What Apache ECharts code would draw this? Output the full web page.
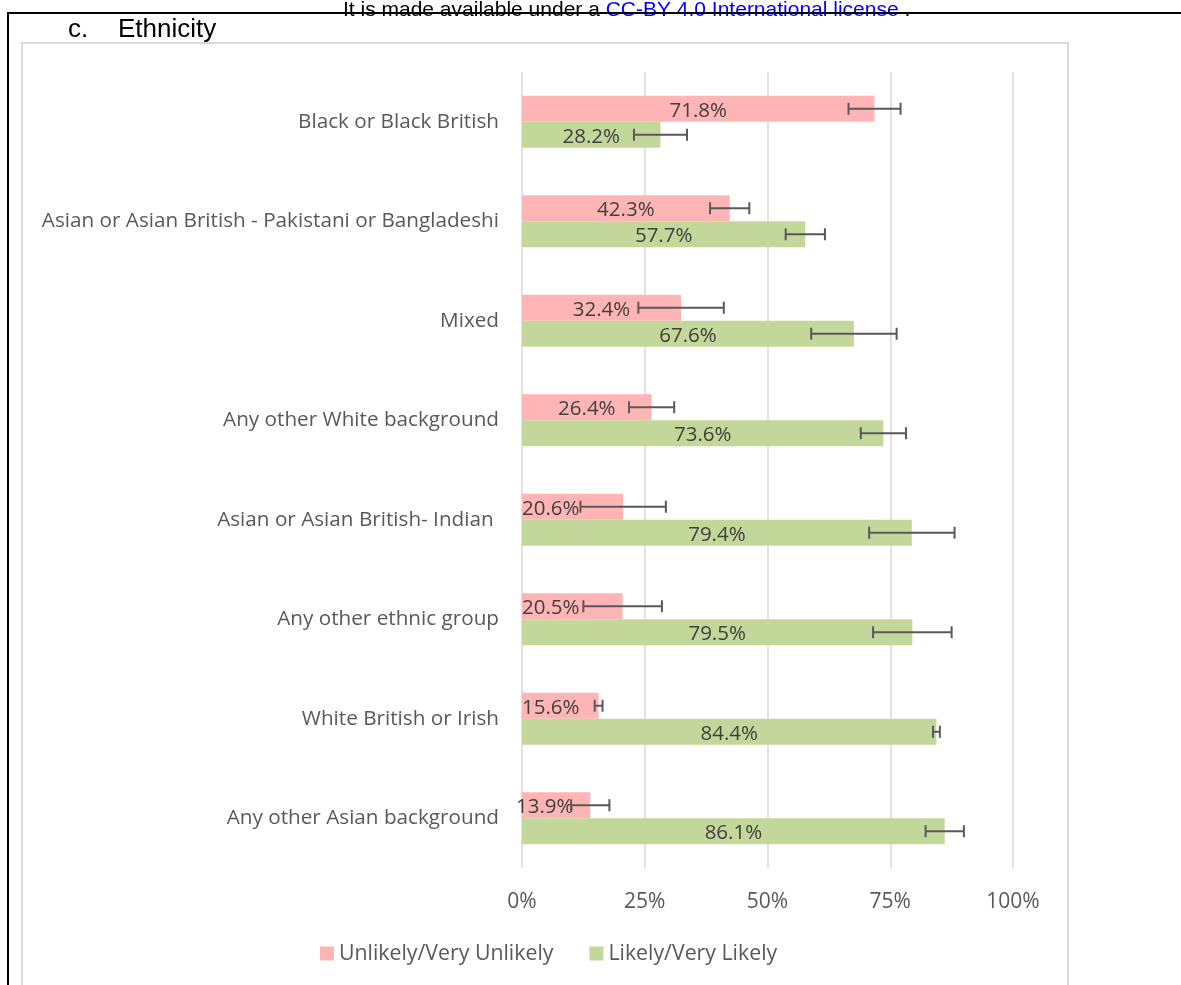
<!DOCTYPE html>
<html>
<head>
<meta charset="utf-8">
<script src="https://cdn.jsdelivr.net/npm/echarts@6/dist/echarts.min.js"></script>
<style>
html,body{margin:0;padding:0;background:#fff;}
#chart{width:1181px;height:985px;}
</style>
</head>
<body>
<div id="chart"></div>
<script>
const categories = [
  'Black or Black British',
  'Asian or Asian British - Pakistani or Bangladeshi',
  'Mixed',
  'Any other White background',
  'Asian or Asian British- Indian ',
  'Any other ethnic group',
  'White British or Irish',
  'Any other Asian background'
];
const unlikely = [71.8, 42.3, 32.4, 26.4, 20.6, 20.5, 15.6, 13.9];
const likely   = [28.2, 57.7, 67.6, 73.6, 79.4, 79.5, 84.4, 86.1];
const errUnlikely = [5.3, 4.0, 8.7, 4.6, 8.7, 8.0, 0.8, 3.9];
const errLikely   = [5.4, 4.0, 8.7, 4.6, 8.7, 8.0, 0.7, 3.9];
const tickValues = [0, 25, 50, 75, 100];
const seriesNames = ['Unlikely/Very Unlikely', 'Likely/Very Likely'];

const chart = echarts.init(document.getElementById('chart'), null, {renderer: 'canvas'});
const TXT = '#595959';
const FONT = 'Open Sans';
const BAR_W = 26;

function errData(vals, errs) {
  return vals.map((v, i) => [v - errs[i], v + errs[i], i]);
}
function errRender(side) {
  return function (params, api) {
    const lo = api.coord([api.value(0), api.value(2)]);
    const hi = api.coord([api.value(1), api.value(2)]);
    const y = lo[1] + side * BAR_W / 2;
    const cap = 6;
    const style = {stroke: '#595959', lineWidth: 2};
    return {
      type: 'group',
      children: [
        {type: 'line', shape: {x1: lo[0], y1: y, x2: hi[0], y2: y}, style},
        {type: 'line', shape: {x1: lo[0], y1: y - cap, x2: lo[0], y2: y + cap}, style},
        {type: 'line', shape: {x1: hi[0], y1: y - cap, x2: hi[0], y2: y + cap}, style}
      ]
    };
  };
}
function barLabel(v) {
  return v < 25
    ? {position: 'insideLeft', distance: v < 15 ? -6 : 0}
    : {position: 'inside'};
}

const option = {
  animation: false,
  backgroundColor: '#ffffff',
  textStyle: {fontFamily: FONT},
  grid: {left: 522, right: 168, top: 72, bottom: 117, containLabel: false},
  legend: {
    data: seriesNames,
    left: 315, top: 938,
    itemWidth: 14, itemHeight: 14, itemGap: 36,
    icon: 'rect',
    textStyle: {color: TXT, fontSize: 21.3, fontFamily: FONT}
  },
  xAxis: {
    type: 'value', min: 0, max: 100, interval: 25,
    axisLine: {show: false}, axisTick: {show: false},
    splitLine: {lineStyle: {color: '#d9d9d9', width: 1.5}},
    axisLabel: {
      color: TXT, fontSize: 21, fontFamily: FONT, margin: 24,
      formatter: v => tickValues.includes(v) ? v + '%' : ''
    }
  },
  yAxis: {
    type: 'category', data: categories, inverse: true,
    axisLine: {show: false}, axisTick: {show: false},
    axisLabel: {color: TXT, fontSize: 20.7, fontFamily: FONT, margin: 23, padding: [3, 0, 0, 0]}
  },
  series: [
    {
      name: seriesNames[0], type: 'bar', barWidth: BAR_W, barGap: '0%',
      itemStyle: {color: '#FFB5B5'},
      data: unlikely.map(v => ({value: v, label: barLabel(v)})),
      label: {show: true, color: '#404040', fontSize: 20.5, fontFamily: FONT, offset: [0, 2], formatter: p => p.value.toFixed(1) + '%'}
    },
    {
      name: seriesNames[1], type: 'bar', barWidth: BAR_W, barGap: '0%',
      itemStyle: {color: '#C4D79B'},
      data: likely,
      label: {show: true, position: 'inside', color: '#404040', fontSize: 20.5, fontFamily: FONT, offset: [0, 2], formatter: p => p.value.toFixed(1) + '%'}
    },
    {
      type: 'custom', renderItem: errRender(-1), data: errData(unlikely, errUnlikely),
      encode: {x: [0, 1], y: 2}, z: 5, silent: true
    },
    {
      type: 'custom', renderItem: errRender(1), data: errData(likely, errLikely),
      encode: {x: [0, 1], y: 2}, z: 5, silent: true
    }
  ],
  graphic: [
    {type: 'rect', shape: {x: 22, y: 43, width: 1046, height: 960}, style: {fill: 'none', stroke: '#d9d9d9', lineWidth: 2}, z: 1},
    {type: 'text', x: 343, y: 0, style: {
      text: '{a|It is made available under a }{b|CC-BY 4.0 International license}{a| .}',
      rich: {a: {fill: '#000', fontSize: 21, fontFamily: 'Liberation Sans'}, b: {fill: '#0000ff', fontSize: 21, fontFamily: 'Liberation Sans'}}
    }, z: 10},
    {type: 'text', x: 68, y: 17, style: {text: 'c.', fill: '#000', fontSize: 26, fontFamily: 'Liberation Sans'}, z: 10},
    {type: 'text', x: 118, y: 17, style: {text: 'Ethnicity', fill: '#000', fontSize: 26, fontFamily: 'Liberation Sans'}, z: 10},
    {type: 'line', shape: {x1: 7, y1: 13, x2: 1181, y2: 13}, style: {stroke: '#000', lineWidth: 2}, z: 20},
    {type: 'line', shape: {x1: 8, y1: 12, x2: 8, y2: 985}, style: {stroke: '#000', lineWidth: 2}, z: 20}
  ]
};
chart.setOption(option);
</script>
</body>
</html>
